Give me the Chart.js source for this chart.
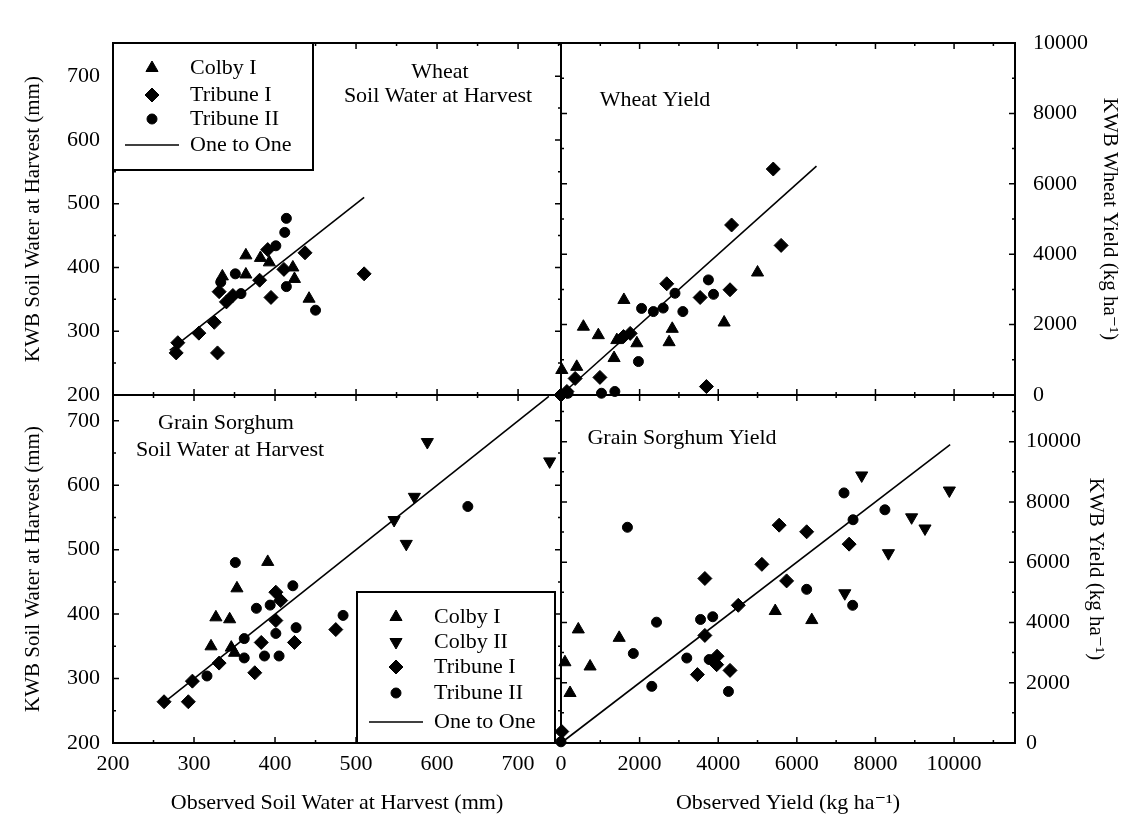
<!DOCTYPE html>
<html>
<head>
<meta charset="utf-8">
<script src="https://cdn.jsdelivr.net/npm/chart.js@4/dist/chart.umd.min.js"></script>
<style>
  html, body { margin: 0; padding: 0; background: #fff; }
  canvas { display: block; }
</style>
</head>
<body>
<canvas id="chart" width="1122" height="821"></canvas>
<script>
// [observed, KWB] pairs

// wheat, soil water at harvest (mm)
const wheatWaterColbyI = [[335,386],[364,389],[364,419],[382,415],[393,408],[422,400],[424,382],[442,351]];
const wheatWaterTribuneI = [[278,266],[280,282],[306,297],[325,314],[329,266],[340,346],[331,362],[348,356],
  [381,380],[395,353],[391,428],[411,397],[437,423],[510,390]];
const wheatWaterTribuneII = [[414,477],[412,455],[401,434],[351,390],[333,377],[358,359],[414,370],[450,333]];
const wheatWaterOneToOne = [270, 510];

// wheat yield (kg/ha)
const wheatYieldColbyI = [[20,710],[400,800],[570,1940],[950,1700],[1350,1050],[1420,1560],[1600,2700],
  [1930,1470],[2750,1500],[2830,1880],[4150,2060],[5000,3480]];
const wheatYieldTribuneI = [[0,0],[150,100],[360,470],[990,500],[1590,1660],[1760,1750],[2690,3160],
  [3540,2770],[4300,2990],[4340,4830],[5400,6420],[5600,4250],[3700,240]];
const wheatYieldTribuneII = [[180,50],[1030,50],[1370,100],[1970,950],[2050,2460],[2350,2370],[2600,2470],
  [2900,2890],[3100,2370],[3750,3270],[3880,2860]];
const wheatYieldOneToOne = [0, 6500];

// grain sorghum, soil water at harvest (mm)
const sorghumWaterColbyI = [[391,481],[353,440],[327,395],[344,392],[321,350],[346,348],[350,340]];
const sorghumWaterColbyII = [[547,546],[562,509],[572,582],[588,667],[739,637]];
const sorghumWaterTribuneI = [[263,264],[293,264],[298,296],[331,324],[375,309],[383,356],[424,356],
  [401,390],[401,434],[407,421],[475,376]];
const sorghumWaterTribuneII = [[316,304],[351,480],[362,332],[362,362],[377,409],[387,335],[394,414],
  [401,370],[405,335],[422,444],[426,379],[484,398],[638,567]];
const sorghumWaterOneToOne = [260, 738];

// grain sorghum yield (kg/ha)
const sorghumYieldColbyI = [[100,2680],[230,1660],[440,3770],[740,2540],[1480,3490],[5450,4380],[6380,4080]];
const sorghumYieldColbyII = [[7220,4970],[7650,8880],[8330,6300],[8920,7490],[9260,7120],[9880,8380]];
const sorghumYieldTribuneI = [[20,380],[3470,2270],[3660,3570],[3660,5460],[3960,2600],[3970,2880],
  [4300,2410],[4510,4570],[5110,5930],[5550,7230],[5740,5380],[6250,7010],[7330,6600]];
const sorghumYieldTribuneII = [[0,40],[1690,7160],[1840,2970],[2310,1880],[2430,4010],[3200,2820],
  [3550,4100],[3770,2770],[3860,4190],[4260,1710],[6250,5100],[7200,8300],[7420,4570],[7430,7410],[8240,7740]];
const sorghumYieldOneToOne = [0, 9900];

// tick labels
const soilWaterTicks = [200, 300, 400, 500, 600, 700];
const yieldTicks = [0, 2000, 4000, 6000, 8000, 10000];

const FONT = '"Liberation Serif", "DejaVu Serif", serif';
const tickFont = {family: FONT, size: 22};
const yTitleFont = {family: FONT, size: 21};
const xTitleFont = {family: FONT, size: 22};
const TEXT = '22px ' + FONT;

const markers = {
    colbyI: {pointStyle: 'triangle', pointRadius: 7, pointRotation: 0},
    colbyII: {pointStyle: 'triangle', pointRadius: 7, pointRotation: 180},
    tribuneI: {pointStyle: 'rectRot', pointRadius: 7, pointRotation: 0},
    tribuneII: {pointStyle: 'circle', pointRadius: 5, pointRotation: 0},
};

function series(rows, kind, xAxisID, yAxisID) {
    return Object.assign({
        data: rows.map(([x, y]) => ({x, y})),
        xAxisID, yAxisID,
        backgroundColor: '#000',
        borderColor: '#000',
        borderWidth: 1,
        clip: false,
    }, markers[kind]);
}

function oneToOne(range, xAxisID, yAxisID) {
    return {
        data: range.map(v => ({x: v, y: v})),
        xAxisID, yAxisID,
        showLine: true,
        pointRadius: 0,
        borderColor: '#000',
        borderWidth: 1.6,
        clip: false,
    };
}

function tickOptions(padding) {
    return {autoSkip: false, maxRotation: 0, padding, color: '#000', font: tickFont, callback: v => String(v)};
}

function xAxis(min, max, values, weight, title) {
    return {
        type: 'linear', axis: 'x', position: 'bottom', stack: 'bottom', stackWeight: weight,
        min, max,
        ticks: tickOptions(8),
        afterBuildTicks: s => { s.ticks = values.map(value => ({value})); },
        grid: {display: false, drawTicks: false},
        border: {display: false},
        title: {display: true, text: title, color: '#000', font: xTitleFont, padding: {top: 0, bottom: 5}},
        afterFit: s => { s.height = 78; },
    };
}

function yAxis(position, min, max, values, weight, title, tickPad, titlePad) {
    return {
        type: 'linear', axis: 'y', position, stack: position, stackWeight: weight,
        min, max,
        ticks: tickOptions(tickPad),
        afterBuildTicks: s => { s.ticks = values.map(value => ({value})); },
        grid: {display: false, drawTicks: false},
        border: {display: false},
        title: {display: true, text: title, color: '#000', font: yTitleFont, padding: {top: titlePad, bottom: 0}},
        afterFit: s => { s.width = position === 'left' ? 113 : 107; },
    };
}

function drawMarker(ctx, style, radius, rotation, x, y) {
    ctx.fillStyle = '#000';
    ctx.strokeStyle = '#000';
    ctx.lineWidth = 1;
    Chart.helpers.drawPoint(ctx, {pointStyle: style, radius, rotation, borderWidth: 1}, x, y);
}

function drawLegend(ctx, left, top, width, height, rows) {
    ctx.fillStyle = '#fff';
    ctx.fillRect(left, top, width, height);
    ctx.strokeStyle = '#000';
    ctx.lineWidth = 2;
    ctx.strokeRect(left, top, width, height);
    ctx.font = TEXT;
    ctx.textAlign = 'left';
    ctx.textBaseline = 'middle';
    rows.forEach(r => {
        const y = top + r.dy;
        if (r.kind === 'line') {
            ctx.strokeStyle = '#000';
            ctx.lineWidth = 1.6;
            ctx.beginPath();
            ctx.moveTo(left + 12, y);
            ctx.lineTo(left + 66, y);
            ctx.stroke();
        } else {
            const m = markers[r.kind];
            drawMarker(ctx, m.pointStyle, m.pointRadius, m.pointRotation, left + 39, y);
        }
        ctx.fillStyle = '#000';
        ctx.fillText(r.label, left + 77, y);
    });
}

const panelPlugin = {
    id: 'panels',
    afterDatasetsDraw(chart) {
        const {ctx, scales: s} = chart;
        const panels = [[s.xL, s.yTL], [s.xR, s.yTR], [s.xL, s.yBL], [s.xR, s.yBR]];
        ctx.save();
        ctx.strokeStyle = '#000';

        panels.forEach(([x, y]) => {
            ctx.lineWidth = 2;
            ctx.strokeRect(x.left, y.top, x.right - x.left, y.bottom - y.top);
            ctx.lineWidth = 1.5;
            ctx.beginPath();
            const xs = x.ticks.map(t => t.value);
            const xStep = xs[1] - xs[0];
            xs.concat(xs.map(v => v + xStep / 2)).forEach((v, i) => {
                if (v > x.max) return;
                const px = x.getPixelForValue(v);
                const len = i < xs.length ? 6 : 3;
                ctx.moveTo(px, y.bottom); ctx.lineTo(px, y.bottom - len);
                ctx.moveTo(px, y.top); ctx.lineTo(px, y.top + len);
            });
            const ys = y.ticks.map(t => t.value);
            const yStep = ys[1] - ys[0];
            ys.concat(ys.map(v => v + yStep / 2)).forEach((v, i) => {
                if (v > y.max) return;
                const py = y.getPixelForValue(v);
                const len = i < ys.length ? 6 : 3;
                ctx.moveTo(x.left, py); ctx.lineTo(x.left + len, py);
                ctx.moveTo(x.right, py); ctx.lineTo(x.right - len, py);
            });
            ctx.stroke();
        });

        // panel titles
        ctx.fillStyle = '#000';
        ctx.font = TEXT;
        ctx.textAlign = 'center';
        ctx.textBaseline = 'middle';
        ctx.fillText('Wheat', s.xL.left + 327, s.yTL.top + 29);
        ctx.fillText('Soil Water at Harvest', s.xL.left + 325, s.yTL.top + 53);
        ctx.fillText('Wheat Yield', s.xR.left + 94, s.yTR.top + 57);
        ctx.fillText('Grain Sorghum', s.xL.left + 113, s.yBL.top + 28);
        ctx.fillText('Soil Water at Harvest', s.xL.left + 117, s.yBL.top + 55);
        ctx.fillText('Grain Sorghum Yield', s.xR.left + 121, s.yBR.top + 43);

        drawLegend(ctx, s.xL.left, s.yTL.top, 200, 127, [
            {kind: 'colbyI', label: 'Colby I', dy: 25},
            {kind: 'tribuneI', label: 'Tribune I', dy: 52},
            {kind: 'tribuneII', label: 'Tribune II', dy: 76},
            {kind: 'line', label: 'One to One', dy: 102},
        ]);
        drawLegend(ctx, s.xL.left + 244, s.yBL.bottom - 151, 198, 151, [
            {kind: 'colbyI', label: 'Colby I', dy: 25},
            {kind: 'colbyII', label: 'Colby II', dy: 50},
            {kind: 'tribuneI', label: 'Tribune I', dy: 75},
            {kind: 'tribuneII', label: 'Tribune II', dy: 101},
            {kind: 'line', label: 'One to One', dy: 130},
        ]);
        ctx.restore();
    }
};

const chart = new Chart(document.getElementById('chart'), {
    type: 'scatter',
    data: {
        datasets: [
            series(wheatWaterColbyI, 'colbyI', 'xL', 'yTL'),
            series(wheatWaterTribuneI, 'tribuneI', 'xL', 'yTL'),
            series(wheatWaterTribuneII, 'tribuneII', 'xL', 'yTL'),
            oneToOne(wheatWaterOneToOne, 'xL', 'yTL'),

            series(wheatYieldColbyI, 'colbyI', 'xR', 'yTR'),
            series(wheatYieldTribuneI, 'tribuneI', 'xR', 'yTR'),
            series(wheatYieldTribuneII, 'tribuneII', 'xR', 'yTR'),
            oneToOne(wheatYieldOneToOne, 'xR', 'yTR'),

            series(sorghumWaterColbyI, 'colbyI', 'xL', 'yBL'),
            series(sorghumWaterColbyII, 'colbyII', 'xL', 'yBL'),
            series(sorghumWaterTribuneI, 'tribuneI', 'xL', 'yBL'),
            series(sorghumWaterTribuneII, 'tribuneII', 'xL', 'yBL'),
            oneToOne(sorghumWaterOneToOne, 'xL', 'yBL'),

            series(sorghumYieldColbyI, 'colbyI', 'xR', 'yBR'),
            series(sorghumYieldColbyII, 'colbyII', 'xR', 'yBR'),
            series(sorghumYieldTribuneI, 'tribuneI', 'xR', 'yBR'),
            series(sorghumYieldTribuneII, 'tribuneII', 'xR', 'yBR'),
            oneToOne(sorghumYieldOneToOne, 'xR', 'yBR'),
        ]
    },
    options: {
        responsive: false,
        animation: false,
        layout: {padding: {top: 43, left: 0, right: 0, bottom: 0}},
        plugins: {
            legend: {display: false},
            tooltip: {enabled: false},
        },
        scales: {
            xL: xAxis(200, 753, soilWaterTicks, 448, 'Observed Soil Water at Harvest (mm)'),
            xR: xAxis(0, 11550, yieldTicks, 454, 'Observed Yield (kg ha\u207B\u00B9)'),
            // left stack is laid out bottom-up, so the lower panel's axis comes first
            yBL: yAxis('left', 200, 740, soilWaterTicks, 348, 'KWB Soil Water at Harvest (mm)', 13, 21),
            yTL: yAxis('left', 200, 752, soilWaterTicks, 352, 'KWB Soil Water at Harvest (mm)', 13, 21),
            yTR: yAxis('right', 0, 10000, yieldTicks, 352, 'KWB Wheat Yield (kg ha\u207B\u00B9)', 18, 0),
            yBR: yAxis('right', 0, 11550, yieldTicks, 348, 'KWB Yield (kg ha\u207B\u00B9)', 11, 14),
        }
    },
    plugins: [panelPlugin]
});
</script>
</body>
</html>
